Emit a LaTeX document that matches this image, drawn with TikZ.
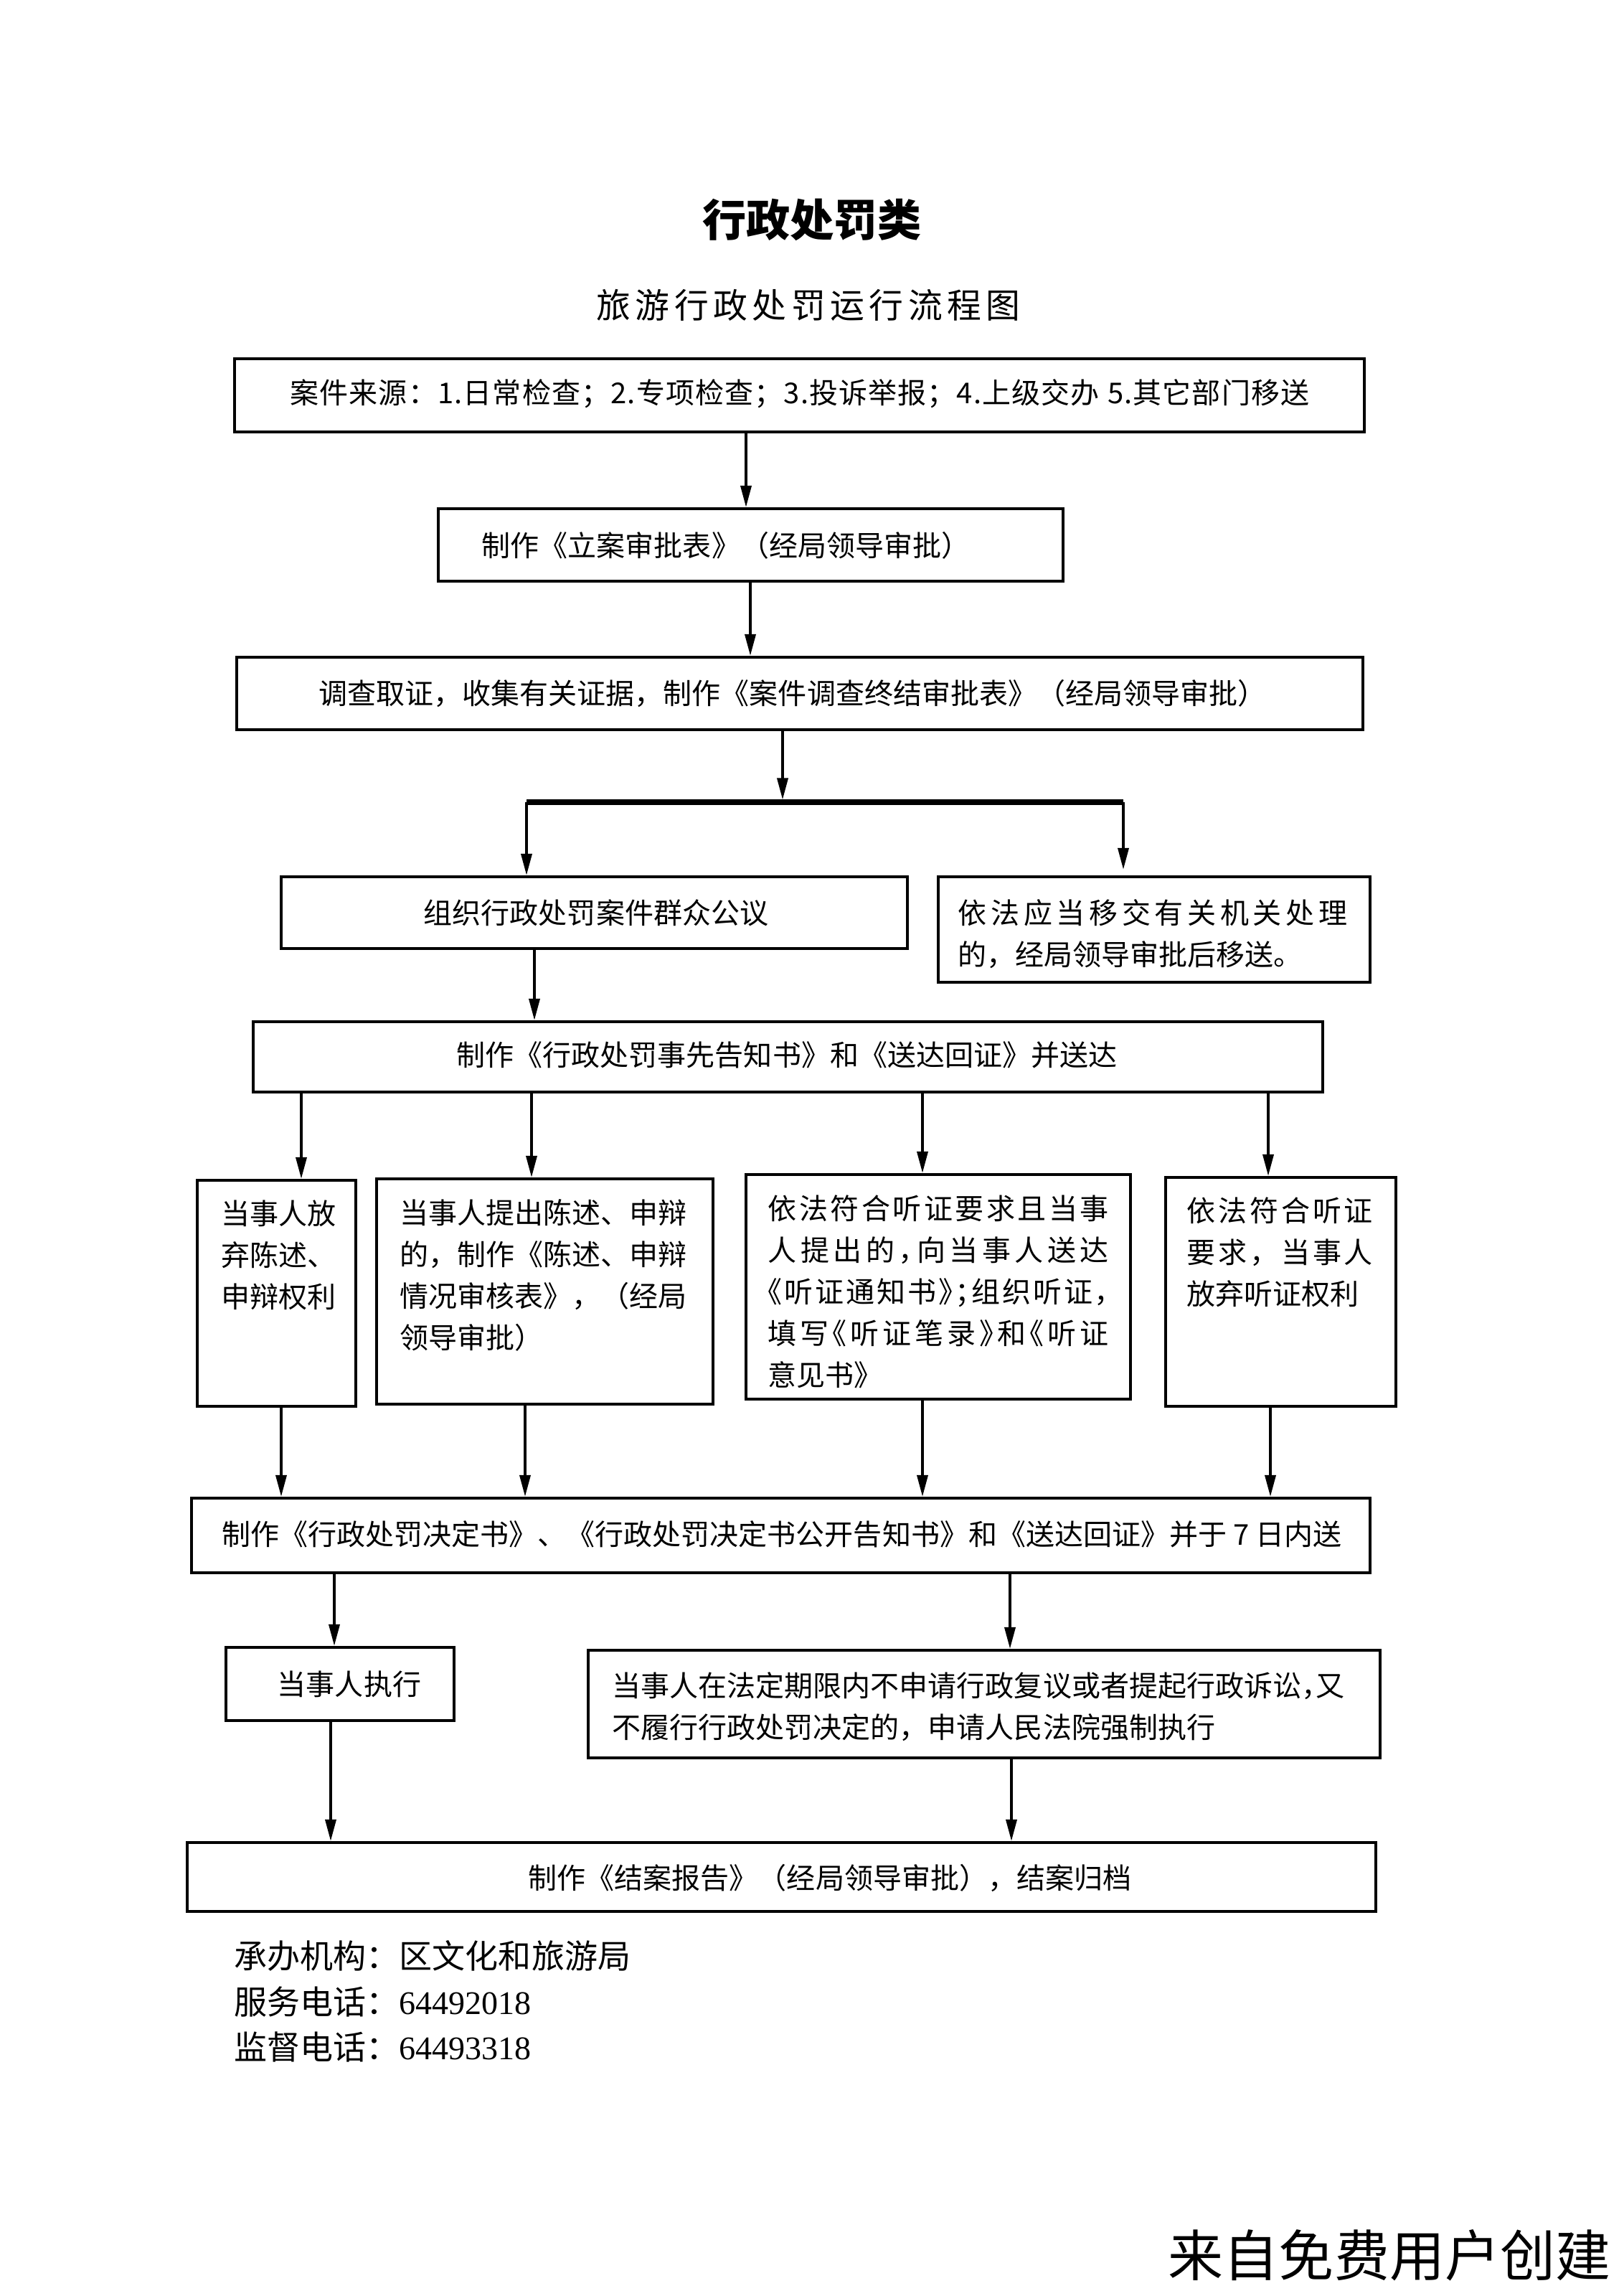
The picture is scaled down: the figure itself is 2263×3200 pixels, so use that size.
\documentclass[tikz,border=0pt]{standalone}
\usepackage{fontspec}
\setmainfont{Noto Sans CJK SC}
\newfontfamily\cjkh{Noto Sans CJK SC}[RawFeature=+halt]
\newfontfamily\tms{Liberation Serif}
\usetikzlibrary{arrows.meta,fit}
\makeatletter
\newcommand\spreadto[2]{\makebox[#1][s]{\@tfor\my@ch:=#2\do{\my@ch\hfil}\unskip}}
\makeatother
\newcommand\bodysize{\fontsize{11.38pt}{16.5pt}\selectfont}
\begin{document}
\begin{tikzpicture}[x=0.01cm,y=-0.01cm,
  box/.style={draw, line width=1.2pt, inner sep=0pt},
  arr/.style={-{Triangle[length=0.3cm,width=0.15cm]}, line width=1pt},
  t/.style={inner sep=0pt, font=\bodysize},
  tl/.style={t, align=left, anchor=north west},
]
\fill[white] (0,0) rectangle (2263,3200);
\useasboundingbox (0,0) rectangle (2263,3200);

% titles
\node[inner sep=0pt, font=\fontsize{17.4pt}{20pt}\selectfont\bfseries] (title) at (1132,306) {行政处罚类};
\node[inner sep=0pt, font=\fontsize{13.6pt}{16pt}\selectfont] (sub) at (1127,425) {\spreadto{5.91cm}{旅游行政处罚运行流程图}};

% boxes
\node[box, fit={(327,500) (1902,602)}] (b1) {};
\node[t] (t1) at (1115,549) {\spreadto{14.2cm}{案件来源：1.日常检查；2.专项检查；3.投诉举报；4.上级交办{\ }5.其它部门移送}};

\node[box, fit={(611,709) (1482,810)}] (b2) {};
\node[t] (t2) at (1012,760) {制作《立案审批表》（经局领导审批）};

\node[box, fit={(330,916) (1900,1017)}] (b3) {};
\node[t] (t3) at (1105,967) {调查取证，收集有关证据，制作《案件调查终结审批表》（经局领导审批）};

\coordinate (barL) at (734,1118);
\coordinate (barR) at (1566,1118);

\node[box, fit={(392,1222) (1265,1322)}] (b4) {};
\node[t] (t4) at (831,1272) {组织行政处罚案件群众公议};

\node[box, fit={(1308,1222) (1910,1369)}] (b5) {};
\node[tl] (t5) at (1335,1253) {\spreadto{5.42cm}{依法应当移交有关机关处理}\\的，经局领导审批后移送。};

\node[box, fit={(353,1424) (1844,1522)}] (b6) {};
\node[t] (t6) at (1097,1470) {制作《行政处罚事先告知书》和《送达回证》并送达};

\node[box, fit={(275,1645) (496,1960)}] (b7) {};
\node[tl] (t7) at (308,1672) {当事人放\\弃陈述、\\申辩权利};

\node[box, fit={(525,1643) (994,1957)}] (b8) {};
\node[tl] (t8) at (557,1671) {当事人提出陈述、申辩\\的，制作《陈述、申辩\\情况审核表》，（经局\\领导审批）};

\node[box, fit={(1040,1637) (1576,1950)}] (b9) {};
\node[tl, font=\cjkh\bodysize] (t9) at (1070,1665) {\spreadto{4.75cm}{依法符合听证要求且当事}\\\spreadto{4.75cm}{人提出的，向当事人送达}\\\spreadto{4.75cm}{《听证通知书》；组织听证，}\\\spreadto{4.75cm}{填写《听证笔录》和《听证}\\意见书》};

\node[box, fit={(1625,1641) (1946,1960)}] (b10) {};
\node[tl] (t10) at (1654,1668) {\spreadto{2.59cm}{依法符合听证}\\\spreadto{2.59cm}{要求，当事人}\\放弃听证权利};

\node[box, fit={(267,2088) (1910,2192)}] (b11) {};
\node[t] (t11) at (1090,2138) {制作《行政处罚决定书》、《行政处罚决定书公开告知书》和《送达回证》并于 7 日内送};

\node[box, fit={(315,2296) (633,2398)}] (b12) {};
\node[t] (t12) at (487,2347) {当事人执行};

\node[box, fit={(820,2300) (1924,2450)}] (b13) {};
\node[tl] (t13) at (853,2330) {{\cjkh 当事人在法定期限内不申请行政复议或者提起行政诉讼，又}\\不履行行政处罚决定的，申请人民法院强制执行};

\node[box, fit={(261,2568) (1918,2664)}] (b14) {};
\node[t] (t14) at (1157,2617) {制作《结案报告》（经局领导审批），结案归档};

% footer
\node[inner sep=0pt, align=left, anchor=north west, font=\fontsize{13.09pt}{18.07pt}\selectfont] (foot) at (326,2704) {承办机构：区文化和旅游局\\服务电话：{\tms 64492018}\\监督电话：{\tms 64493318}};

\node[inner sep=0pt, font=\fontsize{21.9pt}{26pt}\selectfont] (wm) at (1937,3143) {来自免费用户创建};

% connectors
\draw[arr] (b1.south -| 1040,0) -- (b2.north -| 1040,0);
\draw[arr] (b2.south -| 1046,0) -- (b3.north -| 1046,0);
\draw[line width=2pt] (barL) -- (barR);
\draw[arr, shorten >=1pt] (b3.south -| 1091,0) -- (barL -| 1091,0);
\draw[arr] (barL) -- (barL |- b4.north);
\draw[arr, shorten >=0.08cm] (barR) -- (barR |- b5.north);
\draw[arr] (b4.south -| 745,0) -- (b6.north -| 745,0);
\foreach \x/\n in {420/7,741/8,1286/9,1768/10}
  \draw[arr] (b6.south -| \x,0) -- (b\n.north -| \x,0);
\foreach \x/\n in {392/7,732/8,1286/9,1771/10}
  \draw[arr] (b\n.south -| \x,0) -- (b11.north -| \x,0);
\draw[arr] (b11.south -| 466,0) -- (b12.north -| 466,0);
\draw[arr] (b11.south -| 1408,0) -- (b13.north -| 1408,0);
\draw[arr] (b12.south -| 461,0) -- (b14.north -| 461,0);
\draw[arr] (b13.south -| 1410,0) -- (b14.north -| 1410,0);
\end{tikzpicture}
\end{document}
